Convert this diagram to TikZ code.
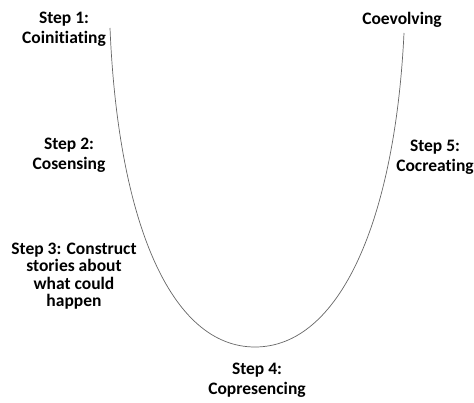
\documentclass[tikz,border=0pt]{standalone}
\usepackage{fontspec}
\setmainfont[Ligatures=NoCommon]{Carlito}
\usetikzlibrary{positioning}

\begin{document}
\begin{tikzpicture}[
  x=1pt, y=-1pt,
  lbl/.style={font=\fontsize{17.5}{20}\selectfont\bfseries, align=center, inner sep=0pt},
  tightlbl/.style={lbl, font=\fontsize{17.5}{17.5}\selectfont\bfseries},
  ucurve/.style={draw=black!60, line width=0.7pt},
]
\useasboundingbox (0,0) rectangle (474,403);

% U curve
\coordinate (top left) at (110,28);
\coordinate (bottom) at (255,347);
\coordinate (top right) at (404,33);
\draw[ucurve] (top left) .. controls (118,220) and (170,347) .. (bottom)
  .. controls (340,347) and (395,220) .. (top right);

% labels
\node[lbl] (step1) at (64,29) {Step 1:\\Coinitiating};
\node[lbl] (step2) at (69,155) {Step 2:\\Cosensing};
\node[tightlbl] (step3) at (74,276) {Step 3: Construct\\stories about\\what could\\happen};
\node[lbl] (step4) at (257,380) {Step 4:\\Copresencing};
\node[lbl] (step5) at (435,157) {Step 5:\\Cocreating};
\node[lbl] (coevolve) at (402,20) {Coevolving};
\end{tikzpicture}
\end{document}
